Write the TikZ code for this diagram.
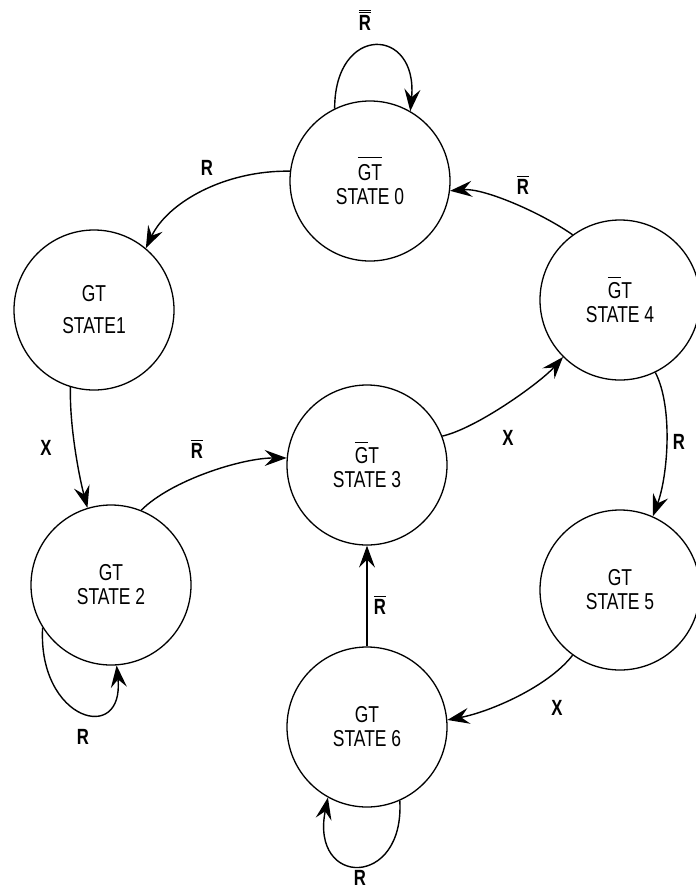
\documentclass[tikz,border=0pt]{standalone}
\usepackage{fontspec}
\setmainfont[FakeStretch=0.76]{Liberation Sans}
\usetikzlibrary{arrows.meta}
\newcommand{\ovl}[2][2pt]{\leavevmode\vbox{\hrule height 1.2pt\kern#1\hbox{#2}}}
\newcommand{\dovl}[1]{\leavevmode\vbox{\hrule height 1.2pt\kern1.4pt\hrule height 1.2pt\kern2pt\hbox{#1}}}

\begin{document}
\begin{tikzpicture}[
    x=1pt, y=-1pt,
    state/.style={draw,circle,line width=1.3pt,minimum size=160pt,inner sep=0pt,align=center,
      font=\fontsize{23}{24}\selectfont},
    lbl/.style={font=\fontsize{22}{24}\selectfont\bfseries,inner sep=1pt},
    arr/.style={-{Stealth[length=22pt,width=16pt,inset=8pt]},line width=1.4pt},
  ]
    \useasboundingbox (0,0) rectangle (696,892);

    % states
    \node[state] (s0) at (370,181) {\ovl[6pt]{GT}\\STATE 0};
    \node[state] (s1) at (94,310)  {GT\\[8pt]STATE1};
    \node[state] (s2) at (111,585) {GT\\STATE 2};
    \node[state] (s3) at (367,465) {\ovl[4pt]{G}T\\STATE 3};
    \node[state] (s4) at (620,300) {\ovl[4pt]{G}T\\STATE 4};
    \node[state] (s5) at (620,590) {GT\\STATE 5};
    \node[state] (s6) at (367,727) {GT\\STATE 6};

    % transitions
    \draw[arr] (s0.116) .. controls +(0,-85) and +(8,-85) .. (s0.60);
    \draw[arr] (s0.173) .. controls +(-65,-1) and +(22,-46) .. (s1.50);
    \draw[arr] (s4.126) .. controls +(-33,-23) and +(33,-3) .. (s0.-7);
    \draw[arr] (s1.253) .. controls +(-1,40) and +(-8,-30) .. (s2.107);
    \draw[arr] (s2.68) .. controls +(30,-30) and +(-45,0) .. (s3.175);
    \draw[arr] (s3.21) .. controls +(35,-8) and +(-22,25) .. (s4.225);
    \draw[arr] (s4.296) .. controls +(18,35) and +(15,-40) .. (s5.66);
    \draw[arr] (s5.234) .. controls +(-25,32) and +(42,-8) .. (s6.5);
    \draw[arr] (s6.north) -- (s3.south);
    \draw[arr] (s2.212) .. controls +(-5,93) and +(8,80) .. (s2.274);
    \draw[arr] (s6.294) .. controls +(5,88) and +(-18,90) .. (s6.241);

    % labels
    \node[lbl] (l00) at (365,20)  {\dovl{R}};
    \node[lbl] (l01) at (207,168) {R};
    \node[lbl] (l40) at (523,185) {\ovl{R}};
    \node[lbl] (l12) at (46,448)  {X};
    \node[lbl] (l23) at (197,449) {\ovl{R}};
    \node[lbl] (l34) at (508,438) {X};
    \node[lbl] (l45) at (679,442) {R};
    \node[lbl] (l56) at (557,708) {X};
    \node[lbl] (l63) at (380,605) {\ovl{R}};
    \node[lbl] (l22) at (83,737)  {R};
    \node[lbl] (l66) at (360,878) {R};
\end{tikzpicture}
\end{document}
